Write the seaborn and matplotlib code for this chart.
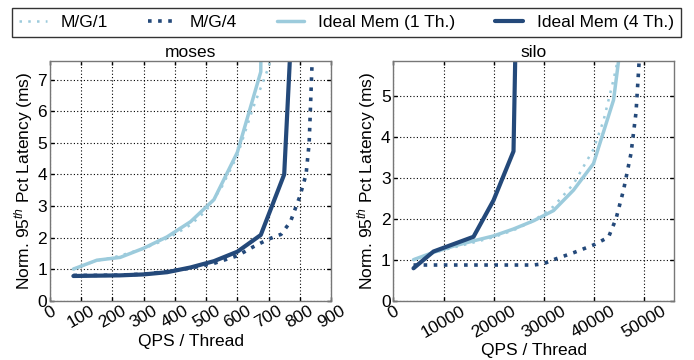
import seaborn as sns
import matplotlib.pyplot as plt
import pandas as pd
import numpy as np

# moses data (QPS / thread vs normalized 95th pct latency)
moses_ideal1_x = [75, 150, 225, 300, 375, 450, 525, 600, 675, 700]
moses_ideal1_y = [1.0, 1.28, 1.37, 1.66, 2.02, 2.5, 3.2, 4.7, 7.25, 50]
moses_mg1_x = [75, 150, 200, 250, 300, 350, 400, 450, 500, 550, 600, 650, 700, 715]
moses_mg1_y = [1.0, 1.27, 1.36, 1.5, 1.65, 1.85, 2.1, 2.4, 2.85, 3.6, 4.6, 6.1, 7.4, 8.0]
moses_ideal4_x = [75, 150, 225, 300, 375, 450, 525, 600, 675, 750, 780]
moses_ideal4_y = [0.78, 0.79, 0.8, 0.83, 0.9, 1.05, 1.25, 1.55, 2.08, 4.0, 10.0]
moses_mg4_x = [75, 150, 225, 300, 375, 450, 525, 600, 650, 700, 740, 770, 800, 820, 830, 838, 840]
moses_mg4_y = [0.8, 0.8, 0.81, 0.84, 0.92, 1.03, 1.18, 1.42, 1.7, 1.95, 2.1, 2.5, 3.3, 4.0, 5.0, 7.2, 7.7]

# silo data
silo_ideal1_x = [4000, 8000, 12000, 16000, 20000, 24000, 28000, 32000, 36000, 40000, 44000, 48000]
silo_ideal1_y = [1.0, 1.18, 1.33, 1.46, 1.58, 1.75, 1.95, 2.2, 2.7, 3.35, 4.9, 8.7]
silo_mg1_x = [4000, 8000, 12000, 16000, 20000, 24000, 28000, 32000, 36000, 40000, 42000, 44000, 44700, 45000]
silo_mg1_y = [1.0, 1.17, 1.3, 1.42, 1.55, 1.72, 1.95, 2.3, 2.85, 3.7, 4.4, 5.4, 5.8, 6.0]
silo_ideal4_x = [4000, 8000, 12000, 16000, 20000, 24000, 28000]
silo_ideal4_y = [0.79, 1.2, 1.38, 1.56, 2.45, 3.65, 30]
silo_mg4_x = [4000, 8000, 12000, 16000, 20000, 24000, 28000, 30000, 32000, 36000, 40000,
              43000, 44500, 46000, 47500, 48500, 49000, 49200]
silo_mg4_y = [0.87, 0.87, 0.87, 0.87, 0.87, 0.87, 0.87, 0.9, 1.0, 1.17, 1.36,
              1.55, 2.0, 2.7, 3.6, 4.6, 5.6, 6.0]

light = '#9ccbdc'
dark = '#24497a'

sns.set_theme(style="whitegrid")
plt.rcParams['font.family'] = ['Liberation Sans', 'DejaVu Sans']
plt.rcParams['mathtext.fontset'] = 'custom'
plt.rcParams['mathtext.it'] = 'Liberation Sans:italic'
plt.rcParams['mathtext.rm'] = 'Liberation Sans'
plt.rcParams['text.color'] = 'black'
plt.rcParams['axes.labelcolor'] = 'black'
plt.rcParams['xtick.color'] = 'black'
plt.rcParams['ytick.color'] = 'black'

fig = plt.figure(figsize=(6.94, 3.6), dpi=100)
ax1 = fig.add_axes([0.072, 0.165, 0.405, 0.666])
ax2 = fig.add_axes([0.567, 0.165, 0.4035, 0.666])

series = [
    ('M/G/1', light, (0, (1, 2.5)), 1.8),
    ('M/G/4', dark, (0, (1, 1.8)), 2.6),
    ('Ideal Mem (1 Th.)', light, '-', 2.5),
    ('Ideal Mem (4 Th.)', dark, '-', 3.0),
]

moses = {
    'M/G/1': (moses_mg1_x, moses_mg1_y),
    'M/G/4': (moses_mg4_x, moses_mg4_y),
    'Ideal Mem (1 Th.)': (moses_ideal1_x, moses_ideal1_y),
    'Ideal Mem (4 Th.)': (moses_ideal4_x, moses_ideal4_y),
}
silo = {
    'M/G/1': (silo_mg1_x, silo_mg1_y),
    'M/G/4': (silo_mg4_x, silo_mg4_y),
    'Ideal Mem (1 Th.)': (silo_ideal1_x, silo_ideal1_y),
    'Ideal Mem (4 Th.)': (silo_ideal4_x, silo_ideal4_y),
}

for ax, data, title, xlim, ylim, xticks, yticks in [
    (ax1, moses, 'moses', (0, 900), (0, 7.6), np.arange(0, 901, 100), np.arange(0, 8)),
    (ax2, silo, 'silo', (0, 56000), (0, 5.86), np.arange(0, 50001, 10000), np.arange(0, 6)),
]:
    for name, color, ls, lw in series:
        x, y = data[name]
        sns.lineplot(x=x, y=y, ax=ax, color=color, linestyle=ls, linewidth=lw,
                     label=name, sort=False, estimator=None, legend=False)
    ax.set_xlim(*xlim)
    ax.set_ylim(*ylim)
    ax.set_xticks(xticks)
    ax.set_yticks(yticks)
    ax.set_xticklabels([str(t) for t in xticks], rotation=30, fontsize=12.5)
    ax.tick_params(axis='y', labelsize=12.5)
    ax.tick_params(direction='in', length=3, width=1, color='black',
                   top=True, right=True, bottom=True, left=True, pad=2)
    ax.grid(True, linestyle=(0, (1, 2)), color='black', linewidth=0.8)
    for s in ax.spines.values():
        s.set_color('#777777')
        s.set_linewidth(1.0)
    ax.set_title(title, fontsize=12.5, pad=3)
    ax.set_xlabel('QPS / Thread', fontsize=12.5, labelpad=2)
    ax.set_ylabel('Norm. 95$^{th}$ Pct Latency (ms)', fontsize=12.5, labelpad=2)

handles, labels = ax1.get_legend_handles_labels()
leg = fig.legend(handles, labels, loc='lower left', ncol=4, mode='expand',
                 bbox_to_anchor=(0.017, 0.897, 0.964, 0.095), fontsize=12.5,
                 frameon=True, fancybox=False, edgecolor='black',
                 handlelength=1.6, borderaxespad=0, columnspacing=1.0)
leg.get_frame().set_linewidth(1.0)

plt.savefig('out.png', dpi=100)
plt.close()
